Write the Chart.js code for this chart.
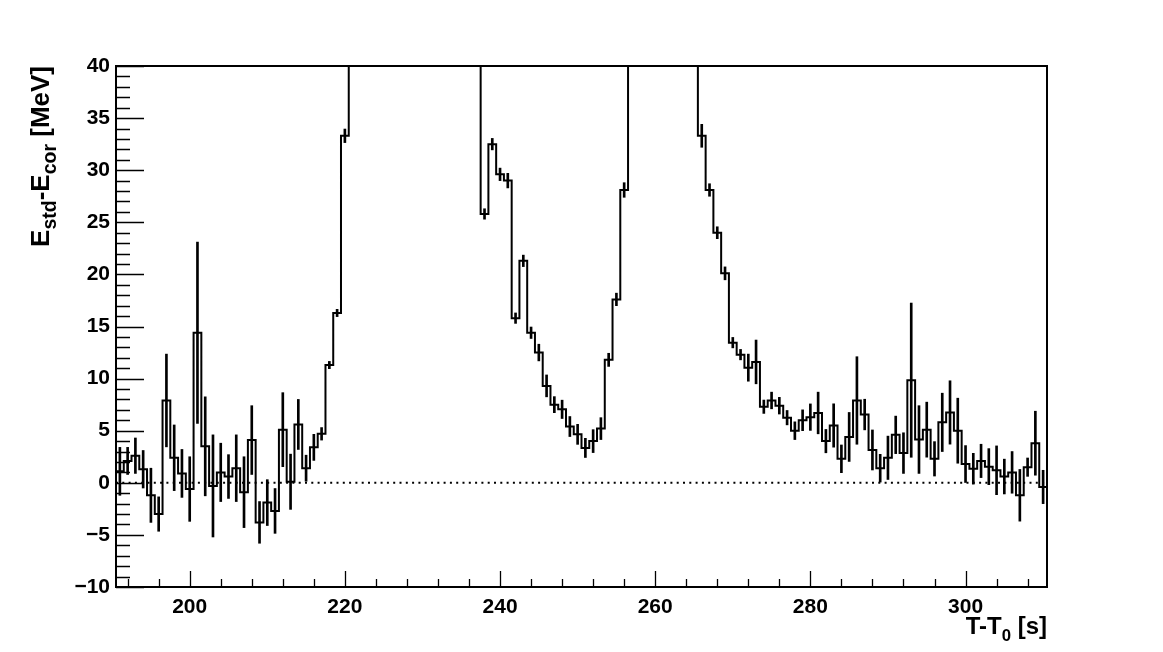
<!DOCTYPE html>
<html>
<head>
<meta charset="utf-8">
<script src="https://cdn.jsdelivr.net/npm/chart.js@4/dist/chart.umd.min.js"></script>
<style>
  html, body { margin: 0; background: #fff; }
</style>
</head>
<body>
<canvas id="c" width="1163" height="652"></canvas>
<script>
/* Estd - Ecor per 1 s bin, with statistical errors */

// bin centres (s)
const binCenters = [
  191, 192, 193, 194, 195, 196, 197, 198, 199, 200,
  201, 202, 203, 204, 205, 206, 207, 208, 209, 210,
  211, 212, 213, 214, 215, 216, 217, 218, 219, 220,
  221, 222, 223, 224, 225, 226, 227, 228, 229, 230,
  231, 232, 233, 234, 235, 236, 237, 238, 239, 240,
  241, 242, 243, 244, 245, 246, 247, 248, 249, 250,
  251, 252, 253, 254, 255, 256, 257, 258, 259, 260,
  261, 262, 263, 264, 265, 266, 267, 268, 269, 270,
  271, 272, 273, 274, 275, 276, 277, 278, 279, 280,
  281, 282, 283, 284, 285, 286, 287, 288, 289, 290,
  291, 292, 293, 294, 295, 296, 297, 298, 299, 300,
  301, 302, 303, 304, 305, 306, 307, 308, 309, 310
];
const binWidth = 1;

// MeV (bins 221-237 and 257-265 run off the top of the frame)
const deltaE = [
  1.1, 2.1, 2.6, 1.3, -1.2, -3.0, 7.9, 2.4, 0.9, -0.6,
  14.4, 3.5, -0.3, 1.0, 0.6, 1.4, -0.9, 4.1, -3.8, -1.9,
  -2.7, 5.1, 0.1, 5.6, 1.4, 3.4, 4.7, 11.3, 16.3, 33.3,
  46, 58, 72, 88, 105, 122, 138, 150, 156, 152,
  140, 124, 104, 84, 66, 52, 43, 25.8, 32.5, 29.6,
  29.0, 15.8, 21.3, 14.4, 12.5, 9.3, 7.5, 7.05, 5.4, 4.65,
  3.35, 4.0, 5.2, 11.8, 17.6, 28.1, 44, 56, 68, 78,
  82, 77, 64, 52, 42, 33.3, 28.1, 24.0, 20.1, 13.45,
  12.3, 11.05, 11.6, 7.3, 7.9, 7.4, 6.25, 5.0, 6.0, 6.3,
  6.7, 4.0, 5.5, 2.3, 4.4, 7.9, 6.55, 3.15, 1.4, 2.4,
  4.6, 2.85, 9.85, 4.15, 5.1, 2.3, 5.8, 6.75, 5.0, 1.8,
  1.35, 2.1, 1.55, 1.2, 0.6, 1.0, -1.2, 1.5, 3.8, -0.4
];

const deltaErr = [
  2.3, 1.3, 1.7, 1.8, 2.6, 1.65, 4.45, 3.15, 2.3, 3.1,
  8.7, 4.75, 4.9, 2.8, 2.1, 3.2, 3.4, 3.3, 2.0, 2.2,
  2.15, 3.55, 2.65, 2.4, 1.25, 1.25, 0.6, 0.35, 0.35, 0.65,
  1, 1, 1, 1, 1, 1, 1, 1, 1, 1,
  1, 1, 1, 1, 1, 1, 1, 0.5, 0.55, 0.6,
  0.7, 0.5, 0.55, 0.55, 0.8, 1.05, 0.77, 0.88, 0.96, 0.96,
  0.92, 1.1, 1.05, 0.63, 0.6, 0.7, 1, 1, 1, 1,
  1, 1, 1, 1, 1, 1.1, 0.6, 0.57, 0.62, 0.5,
  0.5, 1.3, 2.1, 0.64, 0.8, 0.8, 0.69, 0.85, 1.0, 1.27,
  2.0, 1.12, 2.08, 1.33, 2.35, 4.2, 1.47, 1.92, 1.33, 2.08,
  1.8, 1.95, 7.4, 3.25, 2.64, 1.65, 2.8, 3.04, 3.12, 1.77,
  1.48, 1.6, 1.73, 2.34, 1.67, 2.0, 2.48, 0.88, 3.07, 1.6
];

// axes
const xRange = [190.5, 310.5];
const yRange = [-10, 40];
const xMajorTicks = [200, 220, 240, 260, 280, 300];
const xMinorTicks = [192, 196, 204, 208, 212, 216, 224, 228, 232, 236, 244, 248, 252, 256,
                     264, 268, 272, 276, 284, 288, 292, 296, 304, 308];
const yMajorTicks = [-10, -5, 0, 5, 10, 15, 20, 25, 30, 35, 40];

const FONT = '"Liberation Sans", Arial, Helvetica, sans-serif';

/* ── histogram outline: one point per left bin edge, stepped ── */
const stepPts = binCenters.map(function (c, i) { return { x: c - binWidth / 2, y: deltaE[i] }; });
stepPts.push({ x: binCenters[binCenters.length - 1] + binWidth / 2, y: deltaE[deltaE.length - 1] });

const errPts = binCenters.map(function (c, i) {
  return { x: c, y: [deltaE[i] - deltaErr[i], deltaE[i] + deltaErr[i]] };
});

/* ── ROOT-ish frame, inner ticks and axis titles with subscripts ── */
function richWidth(ctx, parts, size, sub) {
  let w = 0;
  parts.forEach(function (p) {
    ctx.font = 'bold ' + (p[1] ? size * sub : size) + 'px ' + FONT;
    w += ctx.measureText(p[0]).width;
  });
  return w;
}
function drawRich(ctx, parts, size, sub, x0) {
  let x = x0;
  parts.forEach(function (p) {
    ctx.font = 'bold ' + (p[1] ? size * sub : size) + 'px ' + FONT;
    ctx.fillText(p[0], x, p[1] ? size * 0.28 : 0);
    x += ctx.measureText(p[0]).width;
  });
}

const rootFrame = {
  id: 'rootFrame',
  afterDraw(chart) {
    const ctx = chart.ctx, a = chart.chartArea, x = chart.scales.x, y = chart.scales.y;
    ctx.save();
    ctx.strokeStyle = '#000';
    ctx.lineWidth = 1.3;
    ctx.beginPath();
    for (let v = yRange[0]; v <= yRange[1]; v++) {
      const py = Math.round(y.getPixelForValue(v)) + 0.5;
      ctx.moveTo(a.left, py);
      ctx.lineTo(a.left + (v % 5 === 0 ? 28 : 14), py);
    }
    xMajorTicks.concat(xMinorTicks).forEach(function (v) {
      const px = Math.round(x.getPixelForValue(v)) + 0.5;
      ctx.moveTo(px, a.bottom);
      ctx.lineTo(px, a.bottom - (xMajorTicks.includes(v) ? 16 : 8));
    });
    ctx.stroke();

    ctx.lineWidth = 2;
    ctx.strokeRect(a.left, a.top, a.right - a.left, a.bottom - a.top);

    ctx.fillStyle = '#000';
    ctx.textBaseline = 'alphabetic';
    ctx.textAlign = 'left';

    // x title, right-aligned to the frame
    const xt = [['T-T', 0], ['0', 1], [' [s]', 0]];
    const wx = richWidth(ctx, xt, 24, 0.7);
    ctx.save();
    ctx.translate(a.right - wx, 634);
    drawRich(ctx, xt, 24, 0.7, 0);
    ctx.restore();

    // y title, rotated, ending at the frame top
    const yt = [['E', 0], ['std', 1], ['-E', 0], ['cor', 1], [' [MeV]', 0]];
    const wy = richWidth(ctx, yt, 26, 0.75);
    ctx.save();
    ctx.translate(49, a.top);
    ctx.rotate(-Math.PI / 2);
    drawRich(ctx, yt, 26, 0.75, -wy);
    ctx.restore();

    ctx.restore();
  }
};

new Chart(document.getElementById('c'), {
  type: 'line',
  data: {
    datasets: [
      {
        type: 'line',
        data: [{ x: xRange[0], y: 0 }, { x: xRange[1], y: 0 }],
        borderColor: '#000',
        borderWidth: 2,
        borderDash: [2, 4.3],
        pointRadius: 0,
        order: 3
      },
      {
        type: 'bar',
        data: errPts,
        backgroundColor: '#000',
        borderWidth: 0,
        barThickness: 2,
        order: 2
      },
      {
        type: 'line',
        data: stepPts,
        stepped: true,
        borderColor: '#000',
        borderWidth: 2,
        pointRadius: 0,
        fill: false,
        order: 1
      }
    ]
  },
  options: {
    responsive: false,
    animation: false,
    events: [],
    layout: { padding: { top: 66, right: 116, left: 0, bottom: 0 } },
    plugins: { legend: { display: false }, tooltip: { enabled: false } },
    scales: {
      x: {
        type: 'linear',
        min: xRange[0],
        max: xRange[1],
        offset: false,
        grid: { display: false, drawTicks: false, offset: false },
        border: { display: false },
        afterBuildTicks: function (s) { s.ticks = xMajorTicks.map(function (v) { return { value: v }; }); },
        afterFit: function (s) { s.height = 65; },
        ticks: {
          autoSkip: false, maxRotation: 0, padding: 8, color: '#000',
          font: { family: FONT, size: 21, weight: 'bold' },
          callback: function (v) { return String(v); }
        }
      },
      y: {
        type: 'linear',
        min: yRange[0],
        max: yRange[1],
        grid: { display: false, drawTicks: false },
        border: { display: false },
        afterBuildTicks: function (s) { s.ticks = yMajorTicks.map(function (v) { return { value: v }; }); },
        afterFit: function (s) { s.width = 116; },
        ticks: {
          autoSkip: false, padding: 6, color: '#000',
          font: { family: FONT, size: 21, weight: 'bold' },
          callback: function (v) { return v < 0 ? '\u2212' + Math.abs(v) : String(v); }
        }
      }
    }
  },
  plugins: [rootFrame]
});
</script>
</body>
</html>
